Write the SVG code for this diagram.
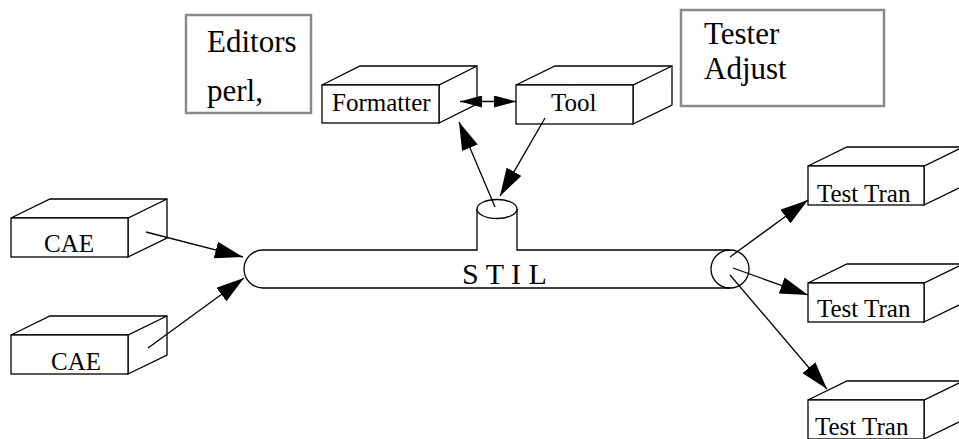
<svg xmlns="http://www.w3.org/2000/svg" width="959" height="439" viewBox="0 0 959 439">
  <style>
    .box { fill: #fff; stroke: #000; stroke-width: 1.3; stroke-linejoin: miter; }
    .note { fill: #fff; stroke: #8a8a8a; stroke-width: 2.5; }
    .pipe { fill: none; stroke: #000; stroke-width: 1.3; }
    text { font-family: 'Liberation Serif', 'Times New Roman', serif; fill: #000; }
    .lbl { font-size: 25px; }
    .big { font-size: 31px; }
    .stil { font-size: 30px; }
    .conn { fill: none; stroke: #000; stroke-width: 1.3; }
  </style>
  <defs>
    <marker id="head" markerUnits="userSpaceOnUse" markerWidth="28" markerHeight="17" refX="28" refY="8.5" orient="auto" viewBox="0 0 28 17">
      <path d="M0,0 L28,8.5 L0,17 Z" fill="#000"/>
    </marker>
    <marker id="headS" markerUnits="userSpaceOnUse" markerWidth="22" markerHeight="12" refX="22" refY="6" orient="auto-start-reverse" viewBox="0 0 22 12">
      <path d="M0,0 L22,6 L0,12 Z" fill="#000"/>
    </marker>
  </defs>

  <rect width="959" height="439" fill="#fff"/>

  <!-- annotation boxes -->
  <g id="editors">
    <rect class="note" x="186" y="15" width="125" height="98"/>
    <text class="big" x="207" y="52">Editors</text>
    <text class="big" x="207" y="101">perl,</text>
  </g>
  <g id="tester-adjust">
    <rect class="note" x="681" y="10" width="203" height="96"/>
    <text class="big" x="704" y="44">Tester</text>
    <text class="big" x="704" y="79">Adjust</text>
  </g>

  <!-- 3D boxes: front face, top face, side face -->
  <g id="formatter">
    <path class="box" d="M322,85 L360,66 L477,66 L439,85 Z M439,85 L477,66 L477,104 L439,123 Z"/>
    <rect class="box" x="322" y="85" width="117" height="38"/>
    <text class="lbl" x="332" y="111">Formatter</text>
  </g>
  <g id="tool">
    <path class="box" d="M516,85 L555,66 L672,66 L633,85 Z M633,85 L672,66 L672,105 L633,124 Z"/>
    <rect class="box" x="516" y="85" width="117" height="39"/>
    <text class="lbl" x="551" y="111">Tool</text>
  </g>
  <g id="cae-1">
    <path class="box" d="M11,218 L50,199 L167,199 L128,218 Z M128,218 L167,199 L167,238 L128,257 Z"/>
    <rect class="box" x="11" y="218" width="117" height="39"/>
    <text class="lbl" x="44" y="252">CAE</text>
  </g>
  <g id="cae-2">
    <path class="box" d="M11,335 L50,316 L167,316 L128,335 Z M128,335 L167,316 L167,355 L128,374 Z"/>
    <rect class="box" x="11" y="335" width="117" height="39"/>
    <text class="lbl" x="51" y="370">CAE</text>
  </g>
  <g id="test-tran-1">
    <path class="box" d="M808,166 L847,147 L963,147 L924,166 Z M924,166 L963,147 L963,186 L924,205 Z"/>
    <rect class="box" x="808" y="166" width="116" height="39"/>
    <text class="lbl" x="817" y="202">Test Tran</text>
  </g>
  <g id="test-tran-2">
    <path class="box" d="M808,283 L847,264 L963,264 L924,283 Z M924,283 L963,264 L963,303 L924,322 Z"/>
    <rect class="box" x="808" y="283" width="116" height="39"/>
    <text class="lbl" x="817" y="317">Test Tran</text>
  </g>
  <g id="test-tran-3">
    <path class="box" d="M808,400 L847,381 L963,381 L924,400 Z M924,400 L963,381 L963,420 L924,439 Z"/>
    <rect class="box" x="808" y="400" width="116" height="39"/>
    <text class="lbl" x="815" y="435">Test Tran</text>
  </g>

  <!-- STIL pipe with riser -->
  <g id="stil">
    <path d="M263,250 H477 V209 H517 V250 H730 V288 H263 A19,19 0 0 1 263,250 Z" fill="#fff" stroke="none"/>
    <path class="pipe" d="M263,250 H477 V209 M517,209 V250 H730 M263,288 H730 M263,250 A19,19 0 0 0 263,288"/>
    <ellipse class="pipe" cx="497" cy="209" rx="20" ry="9.5" fill="#fff"/>
    <circle class="pipe" cx="730" cy="269" r="19" fill="#fff"/>
    <text class="stil" x="462" y="284">S T I L</text>
  </g>

  <!-- connectors -->
  <g id="connectors">
    <line class="conn" x1="146" y1="232" x2="243" y2="257" marker-end="url(#head)"/>
    <line class="conn" x1="148" y1="348" x2="244" y2="278" marker-end="url(#head)"/>
    <line class="conn" x1="495" y1="207" x2="459" y2="122" marker-end="url(#head)"/>
    <line class="conn" x1="545" y1="118" x2="500" y2="196" marker-end="url(#head)"/>
    <line class="conn" x1="460" y1="101.5" x2="516" y2="101.5" marker-start="url(#headS)" marker-end="url(#headS)"/>
    <line class="conn" x1="730" y1="257" x2="808" y2="200" marker-end="url(#head)"/>
    <line class="conn" x1="733" y1="268" x2="808" y2="295" marker-end="url(#head)"/>
    <line class="conn" x1="730" y1="275" x2="827" y2="389" marker-end="url(#head)"/>
  </g>
</svg>
